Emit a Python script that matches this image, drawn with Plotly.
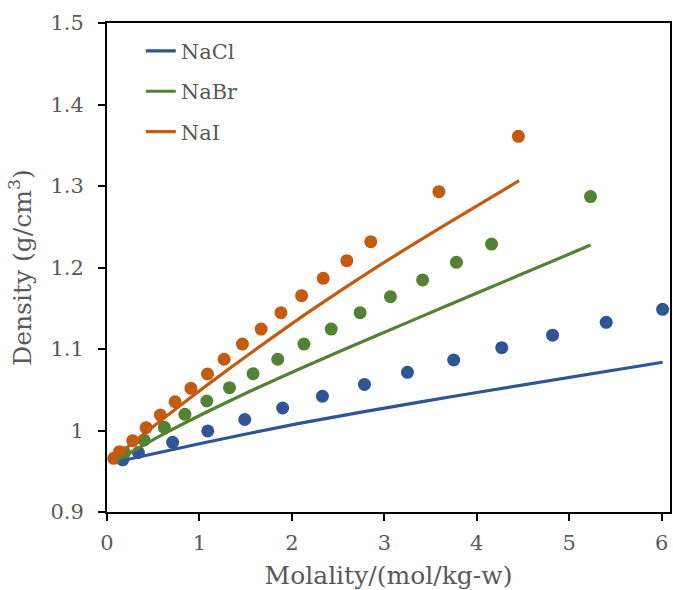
import plotly.graph_objects as go

# Measured densities (dots) versus molality
nacl_m = [0.17, 0.34, 0.71, 1.09, 1.49, 1.90, 2.33, 2.785, 3.25, 3.75, 4.27, 4.82, 5.40, 6.01]
nacl_rho = [0.964, 0.973, 0.9855, 0.9995, 1.0135, 1.0276, 1.042, 1.0565, 1.0714, 1.0865, 1.1016, 1.117, 1.1327, 1.1487]

nabr_m = [0.10, 0.19, 0.40, 0.62, 0.843, 1.08, 1.325, 1.58, 1.847, 2.13, 2.425, 2.738, 3.066,
          3.414, 3.78, 4.16, 5.23]
nabr_rho = [0.967, 0.9728, 0.9883, 1.0039, 1.0199, 1.0362, 1.0525, 1.0697, 1.0874, 1.1061, 1.1245,
            1.1446, 1.1642, 1.1847, 1.2064, 1.2288, 1.287]

nai_m = [0.073, 0.135, 0.278, 0.423, 0.577, 0.736, 0.908, 1.087, 1.267, 1.465, 1.667, 1.882,
         2.105, 2.339, 2.594, 2.853, 3.59, 4.45]
nai_rho = [0.9659, 0.974, 0.9875, 1.0035, 1.019, 1.0353, 1.0518, 1.0693, 1.0874, 1.1061, 1.1245,
           1.1446, 1.1654, 1.1867, 1.2084, 1.2317, 1.293, 1.361]

# Model curves
nacl_fit_m = [0.12, 1.05, 2.08, 3.41, 4.05, 6.01]
nacl_fit_rho = [0.962, 0.985, 1.0088, 1.0355, 1.0475, 1.0837]

nabr_fit_m = [0.10, 0.60, 1.106, 1.60, 2.13, 2.90, 3.695, 4.45, 5.23]
nabr_fit_rho = [0.963, 0.995, 1.0243, 1.051, 1.078, 1.1157, 1.1539, 1.1901, 1.2275]

nai_fit_m = [0.07, 0.60, 1.10, 1.60, 2.20, 2.90, 3.60, 4.457]
nai_fit_rho = [0.966, 1.0137, 1.0572, 1.0987, 1.1467, 1.1992, 1.2482, 1.3065]

series = [
    ("NaCl", "#2F5597", nacl_m, nacl_rho, nacl_fit_m, nacl_fit_rho),
    ("NaBr", "#548235", nabr_m, nabr_rho, nabr_fit_m, nabr_fit_rho),
    ("NaI", "#C55A11", nai_m, nai_rho, nai_fit_m, nai_fit_rho),
]

y_ticks = [0.9, 1.0, 1.1, 1.2, 1.3, 1.4, 1.5]
y_tick_text = ["0.9", "1", "1.1", "1.2", "1.3", "1.4", "1.5"]
x_ticks = [0, 1, 2, 3, 4, 5, 6]

FONT = "DejaVu Serif"
GREY = "#595959"

fig = go.Figure()
for name, color, m, rho, fm, frho in series:
    fig.add_trace(go.Scatter(
        x=m, y=rho, mode="markers", name=name, showlegend=False,
        marker=dict(color=color, size=13, line=dict(width=0)),
    ))
for name, color, m, rho, fm, frho in series:
    fig.add_trace(go.Scatter(
        x=fm, y=frho, mode="lines", name=name, legendgroup=name,
        line=dict(color=color, width=3.2, shape="spline", smoothing=0.6),
    ))

fig.update_layout(
    width=673, height=590,
    margin=dict(l=107, r=1, t=23, b=78),
    paper_bgcolor="white", plot_bgcolor="white",
    font=dict(family=FONT, size=21, color=GREY),
    legend=dict(
        x=0.06, y=0.984, xanchor="left", yanchor="top",
        bgcolor="rgba(0,0,0,0)", font=dict(family=FONT, size=21, color=GREY),
        tracegroupgap=10, traceorder="grouped",
    ),
    xaxis=dict(
        range=[0, 6.09], tickvals=x_ticks, ticks="outside", ticklen=7, tickwidth=2,
        tickcolor="black", showline=True, linecolor="black", linewidth=2, mirror=True,
        showgrid=False, zeroline=False, ticklabelstandoff=4,
        title=dict(text="Molality/(mol/kg-w)", standoff=14),
    ),
    yaxis=dict(
        range=[0.9, 1.5], tickvals=y_ticks, ticktext=y_tick_text, ticks="outside",
        ticklen=7, tickwidth=2, tickcolor="black", showline=True, linecolor="black",
        linewidth=2, mirror=True, showgrid=False, zeroline=False, ticklabelstandoff=10,
        title=dict(text="Density (g/cm<sup>3</sup>)", standoff=12),
    ),
)

fig.write_html("out.html")
